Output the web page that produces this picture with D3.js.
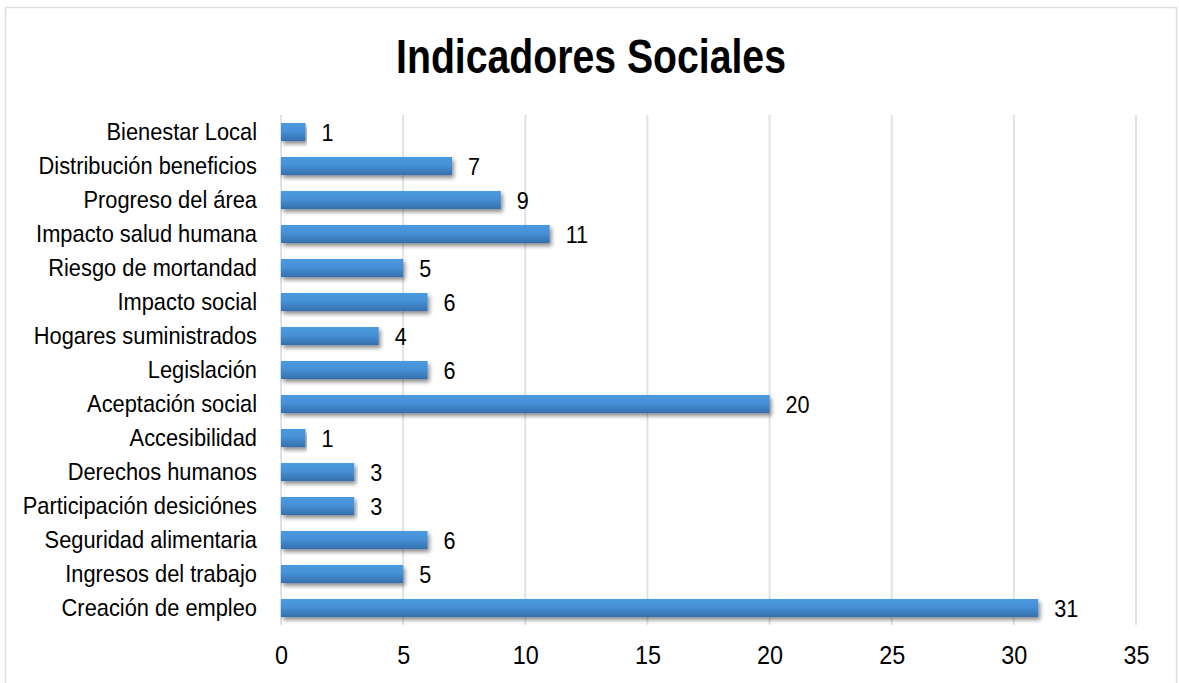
<!DOCTYPE html>
<html>
<head>
<meta charset="utf-8">
<script src="https://cdn.jsdelivr.net/npm/d3@7"></script>
<style>
  html, body { margin: 0; padding: 0; background: #fff; }
  svg { display: block; }
  text { font-family: "Liberation Sans", Arial, sans-serif; fill: #000; }
</style>
</head>
<body>
<svg id="chart" width="1179" height="683"></svg>
<script>
// Social indicators: number of mentions per indicator
const categories = [
  "Bienestar Local",
  "Distribución beneficios",
  "Progreso del área",
  "Impacto salud humana",
  "Riesgo de mortandad",
  "Impacto social",
  "Hogares suministrados",
  "Legislación",
  "Aceptación social",
  "Accesibilidad",
  "Derechos humanos",
  "Participación desiciónes",
  "Seguridad alimentaria",
  "Ingresos del trabajo",
  "Creación de empleo"
];
const values = [1, 7, 9, 11, 5, 6, 4, 6, 20, 1, 3, 3, 6, 5, 31];
const xTicks = [0, 5, 10, 15, 20, 25, 30, 35];
const title = "Indicadores Sociales";

const svg = d3.select("#chart");
const W = 1179, H = 683;
const margin = { left: 281, right: 43, top: 115, bottom: 58 };

// Narrow sans look: Arial-metric font squeezed horizontally
const SQ = 0.9;

// Outer frame
svg.append("rect")
  .attr("x", 5.5).attr("y", 7.5)
  .attr("width", 1171).attr("height", 690)
  .attr("fill", "#fff").attr("stroke", "#dcdde0").attr("stroke-width", 1.5);

const defs = svg.append("defs");
const grad = defs.append("linearGradient")
  .attr("id", "barGrad").attr("x1", 0).attr("y1", 0).attr("x2", 0).attr("y2", 1);
grad.append("stop").attr("offset", "0%").attr("stop-color", "#4b9ae0");
grad.append("stop").attr("offset", "45%").attr("stop-color", "#4690d6");
grad.append("stop").attr("offset", "100%").attr("stop-color", "#3470ae");

const shadow = defs.append("filter").attr("id", "barShadow")
  .attr("x", "-5%").attr("y", "-30%").attr("width", "110%").attr("height", "190%");
shadow.append("feGaussianBlur").attr("in", "SourceAlpha").attr("stdDeviation", 2.2).attr("result", "blur");
shadow.append("feOffset").attr("in", "blur").attr("dx", 2).attr("dy", 3).attr("result", "off");
shadow.append("feComponentTransfer").attr("in", "off").attr("result", "soft")
  .append("feFuncA").attr("type", "linear").attr("slope", 0.45);
const merge = shadow.append("feMerge");
merge.append("feMergeNode").attr("in", "soft");
merge.append("feMergeNode").attr("in", "SourceGraphic");

const x = d3.scaleLinear()
  .domain([0, 35])
  .range([margin.left, W - margin.right]);

const y = d3.scaleBand()
  .domain(categories)
  .range([margin.top, H - margin.bottom])
  .paddingInner(0.47)
  .paddingOuter(0.235);

// Title
svg.append("text")
  .attr("transform", "translate(591,73) scale(0.8,1)")
  .attr("text-anchor", "middle")
  .attr("font-size", 49).attr("font-weight", "bold")
  .text(title);

// Vertical gridlines
svg.append("g")
  .selectAll("line")
  .data(xTicks)
  .join("line")
  .attr("x1", d => x(d)).attr("x2", d => x(d))
  .attr("y1", margin.top).attr("y2", H - margin.bottom)
  .attr("stroke", "#dfe2e8").attr("stroke-width", 2);

// X axis tick labels
const xAxis = d3.axisBottom(x).tickValues(xTicks).tickSize(0).tickPadding(21);
const gx = svg.append("g")
  .attr("transform", `translate(0,${H - margin.bottom})`)
  .call(xAxis);
gx.select(".domain").remove();
gx.selectAll("text")
  .attr("font-size", 26)
  .attr("font-family", "Liberation Sans, Arial, sans-serif")
  .attr("fill", "#000")
  .attr("transform", `scale(${SQ},1)`);

// Y axis category labels
const yPad = 24;
const yAxis = d3.axisLeft(y).tickSize(0).tickPadding(yPad);
const gy = svg.append("g")
  .attr("transform", `translate(${margin.left},0)`)
  .call(yAxis);
gy.select(".domain").remove();
gy.selectAll("text")
  .attr("font-size", 24)
  .attr("font-family", "Liberation Sans, Arial, sans-serif")
  .attr("fill", "#000")
  .attr("x", -yPad / 0.91)
  .attr("transform", "scale(0.91,1)");

// Bars
svg.append("g")
  .selectAll("rect")
  .data(categories)
  .join("rect")
  .attr("x", x(0))
  .attr("y", d => y(d))
  .attr("width", (d, i) => x(values[i]) - x(0))
  .attr("height", y.bandwidth())
  .attr("fill", "url(#barGrad)")
  .attr("filter", "url(#barShadow)");

// Value labels
svg.append("g")
  .selectAll("text")
  .data(categories)
  .join("text")
  .attr("transform", (d, i) =>
    `translate(${x(values[i]) + 16},${y(d) + y.bandwidth() / 2}) scale(${SQ},1)`)
  .attr("dy", "0.36em")
  .attr("font-size", 24)
  .text((d, i) => values[i]);
</script>
</body>
</html>
